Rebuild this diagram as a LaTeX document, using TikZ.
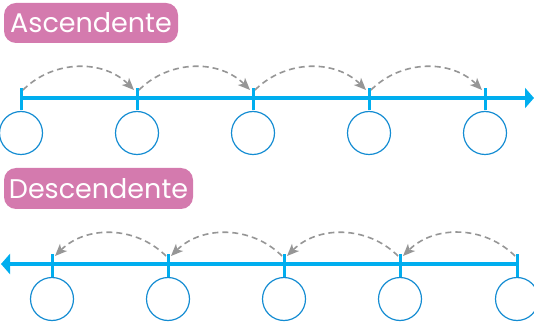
\documentclass[tikz,border=0pt]{standalone}
\usepackage{fontspec}
\setmainfont{Poppins}
\usetikzlibrary{arrows.meta}
\definecolor{linienblau}{RGB}{0,174,239}
\definecolor{kreisblau}{RGB}{20,140,210}
\definecolor{rosa}{RGB}{212,122,174}
\definecolor{pfeilgrau}{RGB}{150,150,150}

\begin{document}
\begin{tikzpicture}[x=1pt, y=1pt,
        >={Stealth[length=12pt,width=10pt,inset=3pt]},   %Pfeilspitzen der Spruenge
        achse/.style={color=linienblau, line width=3.5pt},
        strich/.style={color=linienblau, line width=3pt},
        kreis/.style={draw=kreisblau, circle, line width=1.2pt, minimum size=43pt, inner sep=0pt},
        sprung/.style={->, color=pfeilgrau, line width=1.6pt, dash pattern=on 6pt off 4pt},
        titel/.style={fill=rosa, rounded corners=12pt, text=white, inner sep=0pt,
            font=\fontsize{27}{27}\selectfont}]
        %Bildbereich
        \useasboundingbox (0,0) rectangle (534,321);
        % Ascendente
        \node[titel, minimum width=174pt, minimum height=40pt] (auf) at (91,298) {Ascendente};
        \coordinate (aufanf) at (20,223);
        \coordinate (aufend) at (534,223);
        \draw[achse, -{Triangle[length=9pt,width=20pt]}] (aufanf) -- (aufend);
        \foreach \x [count=\i] in {21,137,253,369,485} {
            \draw[strich] (\x,211) -- (\x,233) coordinate (o\i);
            \node[kreis] (ko\i) at (\x,188) {};
        }
        \foreach \i/\j in {1/2,2/3,3/4,4/5}
            \draw[sprung] ([xshift=2pt,yshift=-2pt]o\i) to[bend left=45] ([xshift=-3pt,yshift=-2pt]o\j);
        % Descendente
        \node[titel, minimum width=189pt, minimum height=41pt] (ab) at (98.5,132.5) {Descendente};
        \coordinate (abanf) at (517,57);
        \coordinate (abend) at (1,57);
        \draw[achse, -{Triangle[length=9pt,width=20pt]}] (abanf) -- (abend);
        \foreach \x [count=\i] in {52,168,284,400,517} {
            \draw[strich] (\x,44) -- (\x,67) coordinate (u\i);
            \node[kreis] (ku\i) at (\x,22) {};
        }
        \foreach \i/\j in {2/1,3/2,4/3,5/4}
            \draw[sprung] ([xshift=-2pt,yshift=-2pt]u\i) to[bend right=45] ([xshift=3pt,yshift=-2pt]u\j);
    \end{tikzpicture}
\end{document}
